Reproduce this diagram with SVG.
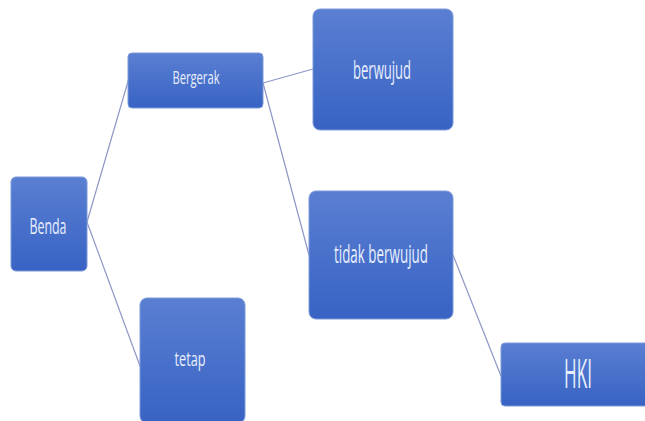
<svg xmlns="http://www.w3.org/2000/svg" width="645" height="421" viewBox="0 0 645 421">
<defs>
<linearGradient id="g" x1="0" y1="0" x2="0" y2="1">
<stop offset="0" stop-color="#5a7fd2"/>
<stop offset="1" stop-color="#3863c4"/>
</linearGradient>
<style>
.box{fill:url(#g);stroke:#7d9ad8;stroke-width:1}
.t{font-family:"Open Sans","Liberation Sans",sans-serif;fill:#e8effc;text-anchor:middle}
.c{stroke:#8d97c6;stroke-width:1.2;fill:none}
</style>
</defs>
<rect width="645" height="421" fill="#ffffff"/>
<g id="connectors">
<line class="c" x1="87" y1="222" x2="129" y2="78"/>
<line class="c" x1="87" y1="222" x2="140" y2="366"/>
<line class="c" x1="263" y1="83" x2="313" y2="69"/>
<line class="c" x1="263" y1="83" x2="309" y2="255"/>
<line class="c" x1="453" y1="255" x2="501" y2="376"/>
</g>
<g id="benda">
<rect class="box" x="11" y="177" width="76" height="94" rx="5"/>
<text class="t" x="48" y="234" font-size="21" textLength="37" lengthAdjust="spacingAndGlyphs">Benda</text>
</g>
<g id="bergerak">
<rect class="box" x="128" y="53" width="135" height="55" rx="4"/>
<text class="t" x="196" y="84" font-size="19" textLength="47" lengthAdjust="spacingAndGlyphs">Bergerak</text>
</g>
<g id="berwujud">
<rect class="box" x="313" y="9" width="140" height="121" rx="7"/>
<text class="t" x="382" y="79" font-size="25" textLength="58" lengthAdjust="spacingAndGlyphs">berwujud</text>
</g>
<g id="tidak-berwujud">
<rect class="box" x="309" y="191" width="144" height="128" rx="7"/>
<text class="t" x="381" y="263" font-size="25" textLength="94" lengthAdjust="spacingAndGlyphs">tidak berwujud</text>
</g>
<g id="tetap">
<rect class="box" x="140" y="298" width="105" height="125" rx="7"/>
<text class="t" x="190" y="366" font-size="20" textLength="31" lengthAdjust="spacingAndGlyphs">tetap</text>
</g>
<g id="hki">
<rect class="box" x="501" y="343" width="150" height="63" rx="4"/>
<text class="t" x="578" y="388" font-size="41" textLength="28" lengthAdjust="spacingAndGlyphs">HKI</text>
</g>
</svg>
